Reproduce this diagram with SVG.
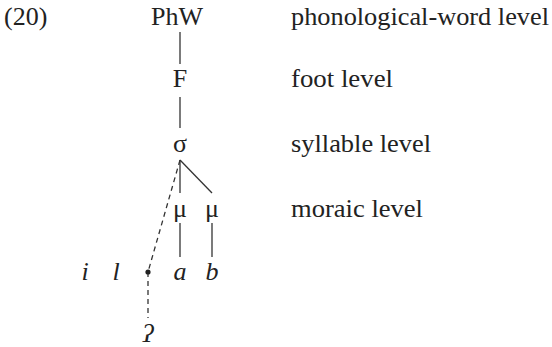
<svg xmlns="http://www.w3.org/2000/svg" width="552" height="347" viewBox="0 0 552 347">
<style>
.t{font-family:'Liberation Serif','Times New Roman',Times,'DejaVu Serif',serif;font-size:26px;fill:#222}
.c{text-anchor:middle}
.it{font-style:italic}
.ln{stroke:#333;stroke-width:1.3;fill:none}
.dash{stroke-dasharray:5 4}
</style>
<rect width="552" height="347" fill="#fff"/>
<g class="t" font-family="'Liberation Serif','Times New Roman',serif">
<text x="4" y="25">(20)</text>
<g id="connectors">
<line class="ln" x1="180" y1="32" x2="180" y2="64"/>
<line class="ln" x1="180" y1="97" x2="180" y2="128"/>
<line class="ln" x1="180" y1="160" x2="180" y2="193"/>
<line class="ln" x1="180" y1="160" x2="212" y2="193"/>
<line class="ln dash" x1="180" y1="160" x2="148" y2="272"/>
<line class="ln" x1="180" y1="223" x2="180" y2="257"/>
<line class="ln" x1="212" y1="223" x2="212" y2="257"/>
<line class="ln dash" x1="148" y1="272" x2="148" y2="318"/>
</g>
<g id="PhW"><text class="c" x="177" y="25">PhW</text></g>
<g id="F"><text class="c" x="180" y="87">F</text></g>
<g id="sigma"><text class="c" x="180" y="152">σ</text></g>
<g id="mu1"><text class="c" x="180" y="217">μ</text></g>
<g id="mu2"><text class="c" x="212" y="217">μ</text></g>
<g id="i"><text class="c it" x="85" y="280">i</text></g>
<g id="l"><text class="c it" x="116" y="280">l</text></g>
<g id="dot"><circle cx="148" cy="272" r="2.6" fill="#222"/></g>
<g id="a"><text class="c it" x="180" y="280">a</text></g>
<g id="b"><text class="c it" x="212" y="280">b</text></g>
<g id="glottal"><text class="c it" x="148" y="342">ʔ</text></g>
<g id="labels">
<text x="291" y="25" textLength="258" lengthAdjust="spacingAndGlyphs">phonological-word level</text>
<text x="291" y="87" textLength="102" lengthAdjust="spacingAndGlyphs">foot level</text>
<text x="291" y="152" textLength="140" lengthAdjust="spacingAndGlyphs">syllable level</text>
<text x="291" y="217" textLength="132" lengthAdjust="spacingAndGlyphs">moraic level</text>
</g>
</g>
</svg>
